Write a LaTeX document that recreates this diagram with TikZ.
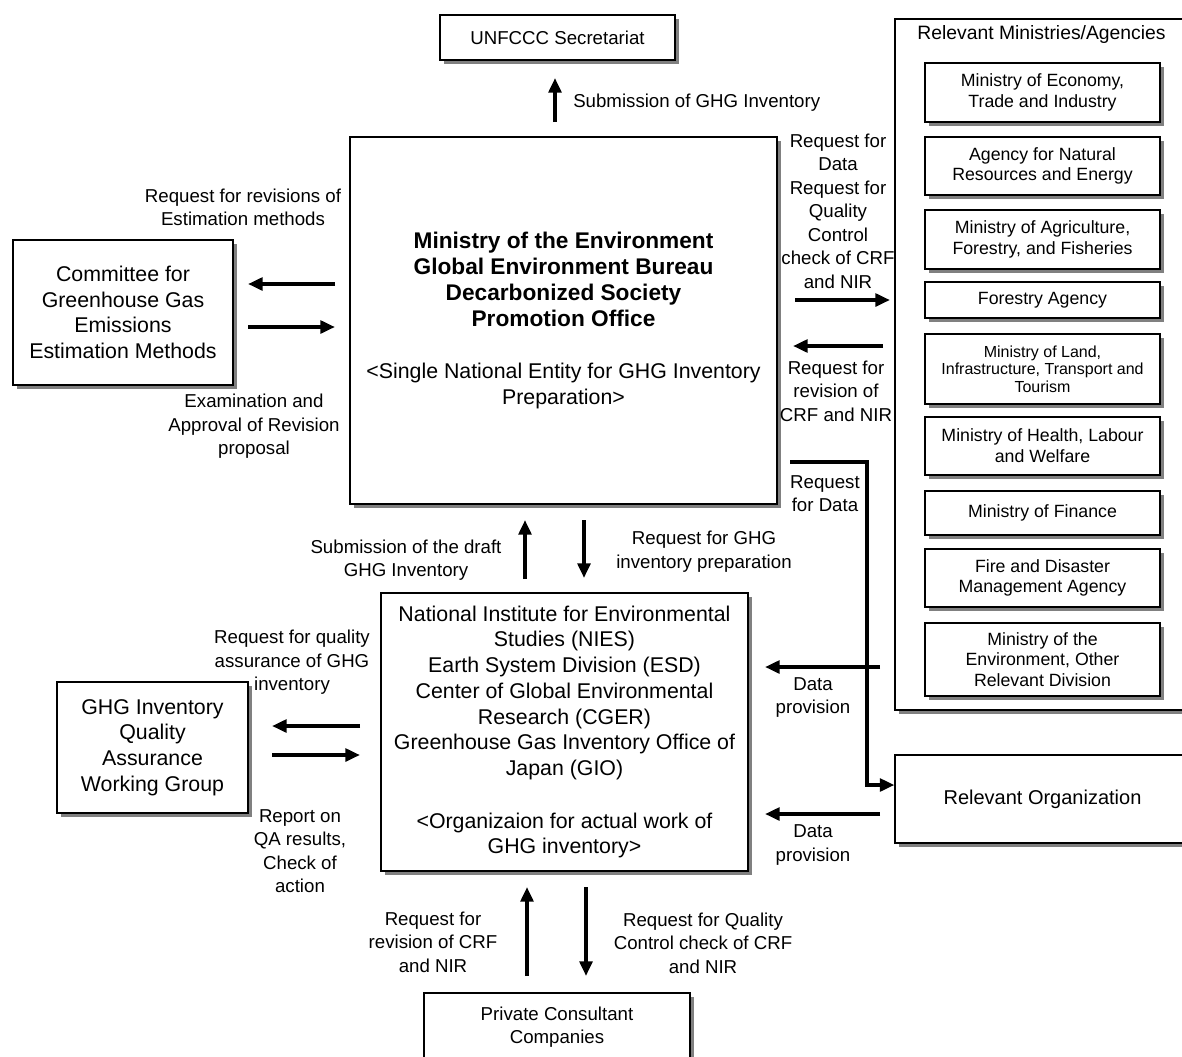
\documentclass[tikz,border=0pt]{standalone}
\usepackage{fontspec}
\setmainfont{Liberation Sans}
\usetikzlibrary{arrows.meta, shadows}

\newcommand{\bline}[1]{{\fontsize{17}{19.5}\selectfont\bfseries #1}}

\tikzset{
  box/.style={draw, fill=white, line width=0.8pt, align=center, inner sep=2pt,
    drop shadow={shadow xshift=3pt, shadow yshift=-3pt, fill=gray, opacity=1}},
  big/.style={font=\fontsize{16}{19.3}\selectfont},
  mid/.style={font=\fontsize{14}{17.3}\selectfont},
  small/.style={font=\fontsize{13.3}{15.6}\selectfont},
  lbl/.style={align=center, inner sep=0pt, font=\fontsize{14}{17.6}\selectfont},
  arr/.style={line width=3pt, -{Triangle[length=11pt, width=9.5pt]}},
}

\begin{document}
\begin{tikzpicture}[x=0.75pt, y=0.75pt, yscale=-1]
  \useasboundingbox (0,0) rectangle (1182,1057);

  % Main boxes:
  \node[box, mid, minimum width=176.25pt, minimum height=33.75pt] (unfccc) at (557.5,37.5) {UNFCCC Secretariat};
  \node[box, big, minimum width=320.25pt, minimum height=275.25pt] (moe) at (563.5,320.5)
    {\bline{Ministry of the Environment}\\ \bline{Global Environment Bureau}\\
     \bline{Decarbonized Society}\\ \bline{Promotion Office}\\[20pt]
     <Single National Entity for GHG Inventory\\ Preparation>};
  \node[box, big, minimum width=165pt, minimum height=108.75pt] (committee) at (123,312.5)
    {Committee for\\ Greenhouse Gas\\ Emissions\\ Estimation Methods};
  \node[box, big, minimum width=275.25pt, minimum height=208.5pt] (nies) at (564.5,732)
    {National Institute for Environmental\\ Studies (NIES)\\ Earth System Division (ESD)\\
     Center of Global Environmental\\ Research (CGER)\\ Greenhouse Gas Inventory Office of\\
     Japan (GIO)\\[20pt] <Organizaion for actual work of\\ GHG inventory>};
  \node[box, big, minimum width=143.25pt, minimum height=98.25pt] (qawg) at (152.5,747.5)
    {GHG Inventory\\ Quality\\ Assurance\\ Working Group};
  \node[box, mid, minimum width=199.5pt, minimum height=51.75pt] (private) at (557,1027.5)
    {Private Consultant\\ Companies};

  % Ministries/agencies:
  \node[box, minimum width=221.25pt, minimum height=518.25pt] (ministries) at (1042.5,364.5) {};
  \node[lbl, font=\fontsize{14.5}{17}\selectfont] (mintitle) at (1041.5,34) {Relevant Ministries/Agencies};
  \foreach \nm/\y/\h/\txt in {
      meti/92.5/44.25/{Ministry of Economy,\\ Trade and Industry},
      anre/166/43.5/{Agency for Natural\\ Resources and Energy},
      maff/239.5/44.25/{Ministry of Agriculture,\\ Forestry, and Fisheries},
      forestry/300/27/{Forestry Agency},
      mhlw/446/43.5/{Ministry of Health, Labour\\ and Welfare},
      mof/513/33/{Ministry of Finance},
      fdma/578/43.5/{Fire and Disaster\\ Management Agency},
      moeother/659.5/54.75/{Ministry of the\\ Environment, Other\\ Relevant Division}}{%
    \node[box, small, minimum width=176.25pt, minimum height=\h pt] (\nm) at (1042.5,\y) {\txt};
  }
  \node[box, font=\fontsize{12}{13}\selectfont, minimum width=176.25pt, minimum height=52.5pt] (mlit) at (1042.5,369)
    {Ministry of Land,\\ Infrastructure, Transport and\\ Tourism};
  \node[box, font=\fontsize{15}{18}\selectfont, minimum width=221.25pt, minimum height=66pt] (relorg) at (1042.5,799)
    {Relevant Organization};

  % Labels:
  \node[lbl, anchor=west] (lsub) at (573,103) {Submission of GHG Inventory};
  \node[lbl] (lrevmeth) at (243,207.5) {Request for revisions of\\ Estimation methods};
  \node[lbl] (lexam) at (254,426.5) {Examination and\\ Approval of Revision\\ proposal};
  \node[lbl] (lreqdata) at (838,211) {Request for\\ Data\\ Request for\\ Quality\\ Control\\ check of CRF\\ and NIR};
  \node[lbl] (lrevcrf) at (836,391) {Request for\\ revision of\\ CRF and NIR};
  \node[lbl] (lforjdata) at (825,493.5) {Request\\ for Data};
  \node[lbl] (lprov1) at (813,697.5) {Data\\ provision};
  \node[lbl] (lprov2) at (813,845) {Data\\ provision};
  \node[lbl] (ldraft) at (406,560) {Submission of the draft\\ GHG Inventory};
  \node[lbl] (lprep) at (704,551.5) {Request for GHG\\ inventory preparation};
  \node[lbl] (lqa) at (292,662.5) {Request for quality\\ assurance of GHG\\ inventory};
  \node[lbl] (lreport) at (300,851) {Report on\\ QA results,\\ Check of\\ action};
  \node[lbl] (lrevbot) at (433,942) {Request for\\ revision of CRF\\ and NIR};
  \node[lbl] (lqcbot) at (703,943) {Request for Quality\\ Control check of CRF\\ and NIR};

  % Arrow ends:
  \coordinate (subA) at (555,122);  \coordinate (subB) at (555,78);
  \coordinate (comA) at (335,284);  \coordinate (comB) at (248,284);
  \coordinate (comC) at (248,327);  \coordinate (comD) at (335,327);
  \coordinate (minA) at (795,300);  \coordinate (minB) at (890,300);
  \coordinate (minC) at (883,346);  \coordinate (minD) at (793,346);
  \coordinate (orgA) at (790,462);  \coordinate (orgB) at (867,462);
  \coordinate (orgC) at (867,785);
  \coordinate (provA) at (880,667); \coordinate (provB) at (765,667);
  \coordinate (provC) at (880,814); \coordinate (provD) at (765,814);
  \coordinate (midA) at (525,579);  \coordinate (midB) at (525,520);
  \coordinate (midC) at (584,520);  \coordinate (midD) at (584,578);
  \coordinate (qaA) at (360,726);   \coordinate (qaB) at (272,726);
  \coordinate (qaC) at (272,755);   \coordinate (qaD) at (360,755);
  \coordinate (botA) at (527,976);  \coordinate (botB) at (527,887);
  \coordinate (botC) at (586,887);  \coordinate (botD) at (586,976);

  % Arrows:
  \draw[arr] (subA) -- (subB);
  \draw[arr] (comA) -- (comB);
  \draw[arr] (comC) -- (comD);
  \draw[arr] (minA) -- (minB);
  \draw[arr] (minC) -- (minD);
  \draw[arr] (orgA) -- (orgB) -- (orgC) -- (orgC -| relorg.west);
  \draw[arr] (provA) -- (provB);
  \draw[arr] (provC) -- (provD);
  \draw[arr] (midA) -- (midB);
  \draw[arr] (midC) -- (midD);
  \draw[arr] (qaA) -- (qaB);
  \draw[arr] (qaC) -- (qaD);
  \draw[arr] (botA) -- (botB);
  \draw[arr] (botC) -- (botD);
\end{tikzpicture}
\end{document}
